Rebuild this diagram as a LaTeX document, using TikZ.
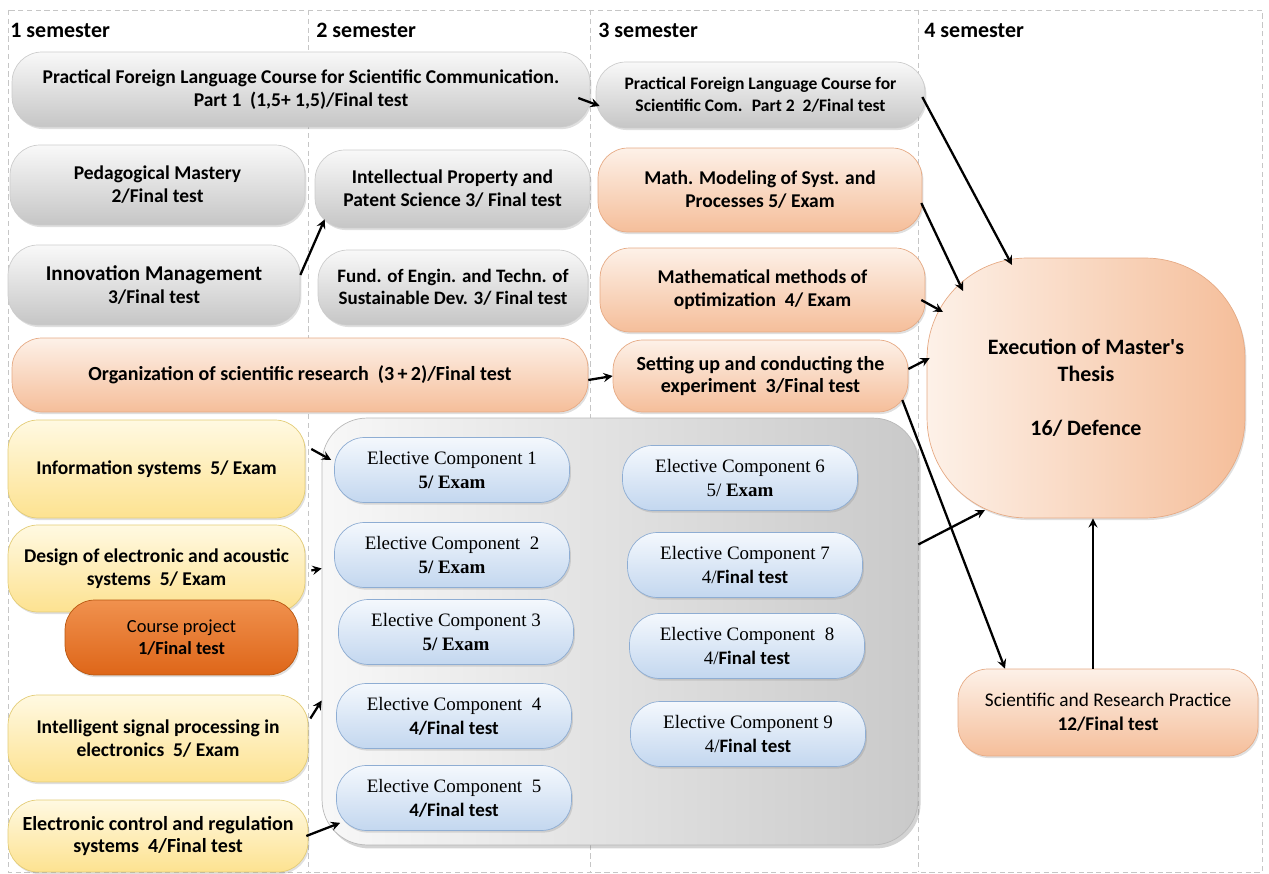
\documentclass[tikz,border=0pt]{standalone}
\usepackage{fontspec}
\setmainfont{Carlito}
\newfontfamily\elfont{Liberation Serif}
\newfontfamily\thesisfont[Ligatures=ResetAll]{Carlito}
\usetikzlibrary{shadows, arrows}

\definecolor{orTop}{HTML}{FDF1E8}
\definecolor{orBot}{HTML}{F5BE9A}
\definecolor{orLine}{HTML}{E6AA84}
\definecolor{yeTop}{HTML}{FFF9E2}
\definecolor{yeBot}{HTML}{FDE290}
\definecolor{yeLine}{HTML}{E3CC76}
\definecolor{cpTop}{HTML}{F0914E}
\definecolor{cpBot}{HTML}{DE6619}
\definecolor{cpLine}{HTML}{B85710}
\definecolor{blTop}{HTML}{F4F8FD}
\definecolor{blBot}{HTML}{C3D7EF}
\definecolor{blLine}{HTML}{8EADD3}

\tikzstyle{colline} = [gray!45, densely dashed, very thin]
\tikzstyle{sem} = [anchor=west, inner sep=0pt, font=\fontsize{12.5}{15}\selectfont\bfseries]
\tikzstyle{course} = [rectangle, rounded corners=0.6cm, align=center, font=\fontsize{11.1}{13}\selectfont\bfseries, drop shadow={opacity=0.25, shadow xshift=0.8pt, shadow yshift=-1.2pt}]
\tikzstyle{greybox} = [course, draw=gray!40, top color=gray!5, bottom color=gray!45]
\tikzstyle{orangebox} = [course, draw=orLine, top color=orTop, bottom color=orBot]
\tikzstyle{yellowbox} = [course, draw=yeLine, top color=yeTop, bottom color=yeBot]
\tikzstyle{projbox} = [course, draw=cpLine, top color=cpTop, bottom color=cpBot]
\tikzstyle{elective} = [course, draw=blLine, top color=blTop, bottom color=blBot, minimum width=4.7cm, minimum height=1.3cm, font=\fontsize{10.8}{13.5}\selectfont\elfont]
\tikzstyle{arrow} = [line width=1.3pt,->,>=stealth]

\begin{document}
\begin{tikzpicture}[x=0.02cm, y=-0.02cm]
\useasboundingbox (0,0) rectangle (1269,874);
% semester columns
\draw[colline] (8,10) rectangle (1262,872);
\draw[colline] (308,10) -- (308,872);
\draw[colline] (590,10) -- (590,872);
\draw[colline] (918,10) -- (918,872);
\node (s1) [sem] at (10,30) {1 semester};
\node (s2) [sem] at (316,30) {2 semester};
\node (s3) [sem] at (598,30) {3 semester};
\node (s4) [sem] at (924,30) {4 semester};

\node (pflc1) [greybox, minimum width=11.56cm, minimum height=1.5cm] at (301,89.5) {Practical Foreign Language Course for Scientific Communication.\\Part 1~ (1,5+ 1,5)/Final test};
\node (pflc2) [greybox, minimum width=6.58cm, minimum height=1.32cm, font=\fontsize{10}{12.5}\selectfont\bfseries] at (760.5,95) {Practical Foreign Language Course for\\Scientific Com.~ Part 2~ 2/Final test};
\node (pedag) [greybox, minimum width=5.9cm, minimum height=1.6cm] at (157.5,185) {Pedagogical Mastery\\2/Final test};
\node (ipps) [greybox, minimum width=5.5cm, minimum height=1.56cm] at (452.5,189) {Intellectual Property and\\Patent Science 3/ Final test};
\node (innov) [greybox, minimum width=5.84cm, minimum height=1.6cm] at (154,285) {{\fontsize{12}{14}\selectfont Innovation Management}\\3/Final test};
\node (fund) [greybox, minimum width=5.4cm, minimum height=1.5cm, font=\fontsize{10.8}{12.5}\selectfont\bfseries] at (453,287.5) {Fund. of Engin. and Techn. of\\Sustainable Dev. 3/ Final test};
\node (mms) [orangebox, minimum width=6.48cm, minimum height=1.68cm] at (760,190) {Math. Modeling of Syst. and\\Processes 5/ Exam};
\node (mmo) [orangebox, minimum width=6.5cm, minimum height=1.68cm] at (762.5,290) {Mathematical methods of\\optimization~ 4/ Exam};
\node (orgsr) [orangebox, minimum width=11.52cm, minimum height=1.48cm, font=\fontsize{11.4}{13}\selectfont\bfseries] at (300,375) {Organization of scientific research~ (3\,+\,2)/Final test};
\node (setup) [orangebox, minimum width=5.9cm, minimum height=1.44cm, font=\fontsize{11.4}{13}\selectfont\bfseries] at (760.5,376) {Setting up and conducting the\\experiment~ 3/Final test};
\node (thesis) [orangebox, rounded corners=2cm, left color=orTop, right color=orBot, minimum width=6.36cm, minimum height=5.2cm, font=\thesisfont\fontsize{12.5}{15.4}\selectfont\bfseries] at (1086,388) {Execution of Master's\\Thesis\\[15.4pt]16/ Defence};
\node (srp) [orangebox, minimum width=6cm, minimum height=1.74cm, font=\fontsize{11}{13.5}\selectfont] at (1108,712.5) {Scientific and Research Practice\\\textbf{12/Final test}};

\node (infsys) [yellowbox, minimum width=5.94cm, minimum height=1.96cm] at (156.5,469) {Information systems~ 5/ Exam};
\node (design) [yellowbox, minimum width=5.94cm, minimum height=1.74cm] at (156.5,568.5) {Design of electronic and acoustic\\systems~ 5/ Exam};
\node (cproj) [projbox, minimum width=4.66cm, minimum height=1.5cm, font=\fontsize{10.5}{13}\selectfont] at (181.5,637.5) {Course project\\\textbf{1/Final test}};
\node (isp) [yellowbox, minimum width=6cm, minimum height=1.74cm] at (158,738.5) {Intelligent signal processing in\\electronics~ 5/ Exam};
\node (ecrs) [yellowbox, minimum width=6cm, minimum height=1.44cm, font=\fontsize{11.4}{13}\selectfont\bfseries] at (158,836) {Electronic control and regulation\\systems~ 4/Final test};

\node (panel) [rectangle, rounded corners=0.9cm, draw=gray!55, left color=gray!6, right color=gray!42, minimum width=11.92cm, minimum height=8.54cm, drop shadow={opacity=0.35, shadow xshift=1.5pt, shadow yshift=-2pt}] at (620,631.5) {};
\node (e1) [elective] at (452,470) {Elective Component 1\\\textbf{5/ Exam}};
\node (e2) [elective] at (452,555) {Elective Component~ 2\\\textbf{5/ Exam}};
\node (e3) [elective] at (456,632) {Elective Component 3\\\textbf{5/ Exam}};
\node (e4) [elective] at (454,716) {Elective Component~ 4\\{\normalfont\bfseries 4/Final test}};
\node (e5) [elective] at (454,798) {Elective Component~ 5\\{\normalfont\bfseries 4/Final test}};
\node (e6) [elective] at (740,478) {Elective Component 6\\5/ \textbf{Exam}};
\node (e7) [elective] at (745,565) {Elective Component 7\\4/{\normalfont\bfseries Final test}};
\node (e8) [elective] at (747,646) {Elective Component~ 8\\4/{\normalfont\bfseries Final test}};
\node (e9) [elective] at (748,734) {Elective Component 9\\4/{\normalfont\bfseries Final test}};

\draw [arrow] ([shift={(-12,8.5)}]pflc1.east) -- ([shift={(4,11)}]pflc2.west);
\draw [arrow] ([shift={(0,-10)}]innov.east) -- ([shift={(10,-9)}]ipps.south west);
\draw [arrow] ([shift={(0,5)}]orgsr.east) -- (setup.west);
\draw [arrow] ([shift={(-3,2)}]pflc2.east) -- ([shift={(-74,-123)}]thesis.center);
\draw [arrow] ([shift={(-1,13)}]mms.east) -- ([shift={(-123,-97)}]thesis.center);
\draw [arrow] ([shift={(-4,10)}]mmo.east) -- ([shift={(-143,-76)}]thesis.center);
\draw [arrow] ([shift={(0,-7)}]setup.east) -- ([shift={(3,-30)}]thesis.west);
\draw [arrow] ([shift={(-6,24)}]setup.east) -- ([shift={(-103,0)}]srp.north);
\draw [arrow] ([shift={(0,-87)}]panel.east) -- ([shift={(-101,122)}]thesis.center);
\draw [arrow] ([shift={(-15,0)}]srp.north) -- ([shift={(7,0)}]thesis.south);
\draw [arrow] ([shift={(6,-20)}]infsys.east) -- ([shift={(-3,-10)}]e1.west);
\draw [arrow] ([shift={(6,2)}]design.east) -- ([shift={(0,-63)}]panel.west);
\draw [arrow] ([shift={(2,-20)}]isp.east) -- ([shift={(0,69)}]panel.west);
\draw [arrow] ([shift={(-2,0)}]ecrs.east) -- ([shift={(4,-8)}]e5.south west);
\end{tikzpicture}
\end{document}
